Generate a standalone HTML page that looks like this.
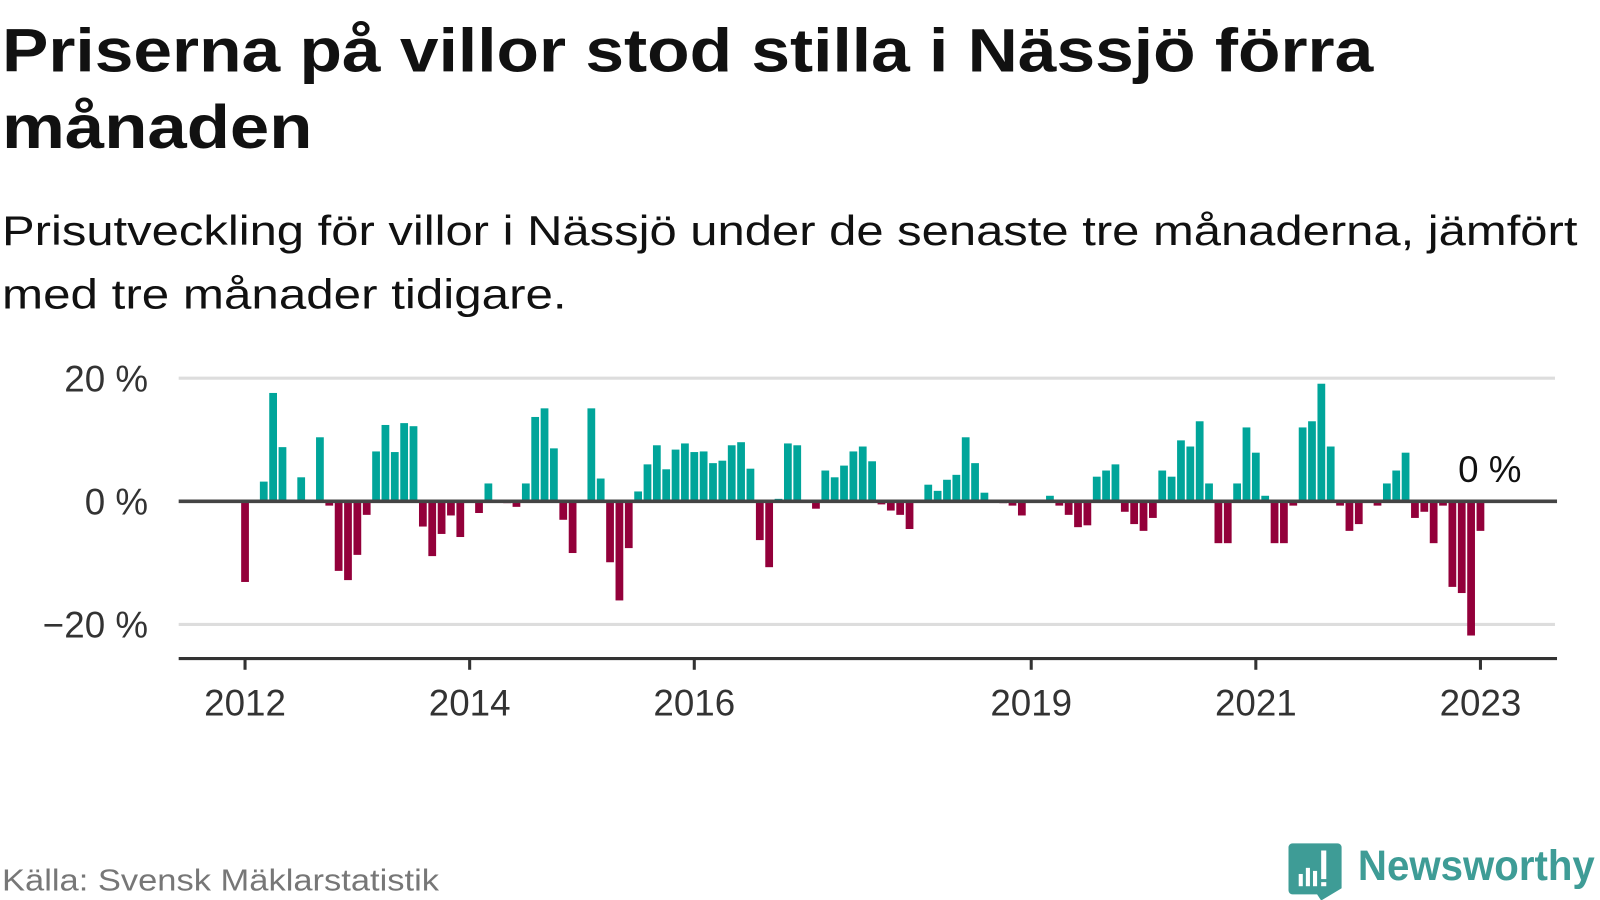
<!DOCTYPE html>
<html><head><meta charset="utf-8"><style>
html,body{margin:0;padding:0;background:#fff;width:1600px;height:900px;overflow:hidden}
svg{display:block}
text{font-family:"Liberation Sans",sans-serif}
</style></head><body>
<svg id="chart" width="1600" height="900" viewBox="0 0 1600 900">
<g transform="scale(1.021)">
<text x="2" y="70" font-size="60" font-weight="bold" fill="#111" textLength="1343" lengthAdjust="spacingAndGlyphs">Priserna på villor stod stilla i Nässjö förra</text>
<text x="2" y="145" font-size="60" font-weight="bold" fill="#111" textLength="304" lengthAdjust="spacingAndGlyphs">månaden</text>
<text x="2" y="240" font-size="41" fill="#111" textLength="1543" lengthAdjust="spacingAndGlyphs">Prisutveckling för villor i Nässjö under de senaste tre månaderna, jämfört</text>
<text x="2" y="302" font-size="41" fill="#111" textLength="553" lengthAdjust="spacingAndGlyphs">med tre månader tidigare.</text>
<g id="grid"></g>
<g id="bars"></g>
<g id="axes"></g>
<text x="2" y="872" font-size="30" fill="#777" textLength="428" lengthAdjust="spacingAndGlyphs">Källa: Svensk Mäklarstatistik</text>
<g>
<path d="M1266 826 h44 a4 4 0 0 1 4 4 v40 l-20 12 l-4 -6 h-24 a4 4 0 0 1 -4 -4 v-42 a4 4 0 0 1 4 -4z" fill="#3e9c96"/>
<rect x="1272" y="856" width="4" height="12" fill="#fff"/><rect x="1279" y="850" width="4" height="18" fill="#fff"/><rect x="1286" y="853" width="4" height="15" fill="#fff"/><rect x="1294" y="833" width="5" height="28" fill="#fff"/><rect x="1294" y="864" width="5" height="4" fill="#fff"/>
<text x="1330" y="862" font-size="42" font-weight="bold" fill="#3e9c96" textLength="232" lengthAdjust="spacingAndGlyphs">Newsworthy</text>
</g>
</g>
</svg>
<script>
const values = [-13.1,0,3.2,17.6,8.8,0,3.9,0,10.4,-0.7,-11.3,-12.8,-8.7,-2.2,8.1,12.4,8.0,12.7,12.2,-4.1,-8.9,-5.3,-2.3,-5.8,
0,-1.9,2.9,0,-0.3,-0.9,2.9,13.7,15.1,8.6,-3.0,-8.4,
0,15.1,3.7,-9.9,-16.1,-7.6,1.6,6.0,9.1,5.2,8.4,9.4,
8.0,8.1,6.2,6.6,9.1,9.6,5.3,-6.3,-10.7,0.4,9.4,9.1,
0,-1.2,5.0,3.9,5.8,8.1,8.9,6.5,-0.5,-1.5,-2.2,-4.5,
0,2.7,1.7,3.5,4.3,10.4,6.2,1.4,0,-0.3,-0.7,-2.3,
0,0,0.9,-0.7,-2.2,-4.2,-3.9,4.0,5.0,6.0,-1.7,-3.7,-4.8,-2.7,
5.0,4.0,9.9,8.9,13.0,2.9,-6.8,-6.8,2.9,12.0,7.9,0.9,
-6.8,-6.8,-0.7,12.0,13.0,19.1,8.9,-0.7,-4.8,-3.7,0,-0.7,
2.9,5.0,7.9,-2.7,-1.7,-6.8,-0.7,-13.9,-14.9,-21.8,-4.8,0];
const yTicks = [20,0,-20];
const yTickLabels = ["20 %","0 %","−20 %"];
const xTickYears = [2012,2014,2016,2019,2021,2023];
const lastLabel = "0 %";

const NS="http://www.w3.org/2000/svg";
const x = i => 240 + i*1210/132;
const xYear = yr => x((yr-2012)*12);
const y = v => 491 - v*6.03;
function mk(tag, attrs, parent){const e=document.createElementNS(NS,tag);for(const k in attrs)e.setAttribute(k,attrs[k]);parent.appendChild(e);return e;}
const grid=document.getElementById('grid'), bars=document.getElementById('bars'), axes=document.getElementById('axes');
yTicks.forEach((t,i)=>{
  if(t!==0){const l=mk('line',{x1:175,x2:1523,y1:y(t),y2:y(t),stroke:'#dddddd','stroke-width':3},grid);
  
  }
  const tx=mk('text',{x:145,y:y(t)+13,'text-anchor':'end','font-size':36,fill:'#333'},axes);
  tx.textContent=yTickLabels[i];
  
  
});
values.forEach((v,i)=>{
  if(v===0)return;
  const r=mk('rect',{x:x(i)-3.8,width:7.6,y:v>0?y(v):y(0),height:Math.abs(y(v)-y(0)),fill:v>0?'#00a59a':'#93003a'},bars);
  
  
});
const z=mk('line',{x1:175,x2:1525,y1:y(0),y2:y(0),stroke:'#444','stroke-width':3.5},axes);


const ax=mk('line',{x1:175,x2:1525,y1:645,y2:645,stroke:'#333','stroke-width':3},axes);


xTickYears.forEach(yr=>{
  const tk=mk('line',{x1:xYear(yr),x2:xYear(yr),y1:645,y2:656,stroke:'#333','stroke-width':3},axes);
  
  
  const t=mk('text',{x:xYear(yr),y:701,'text-anchor':'middle','font-size':36,fill:'#333'},axes);
  t.textContent=String(yr);
  
  
});
const ll=mk('text',{x:x(values.length-1),y:472,'text-anchor':'middle','font-size':36,fill:'#111'},axes);
ll.textContent=lastLabel;


</script>
</body></html>
